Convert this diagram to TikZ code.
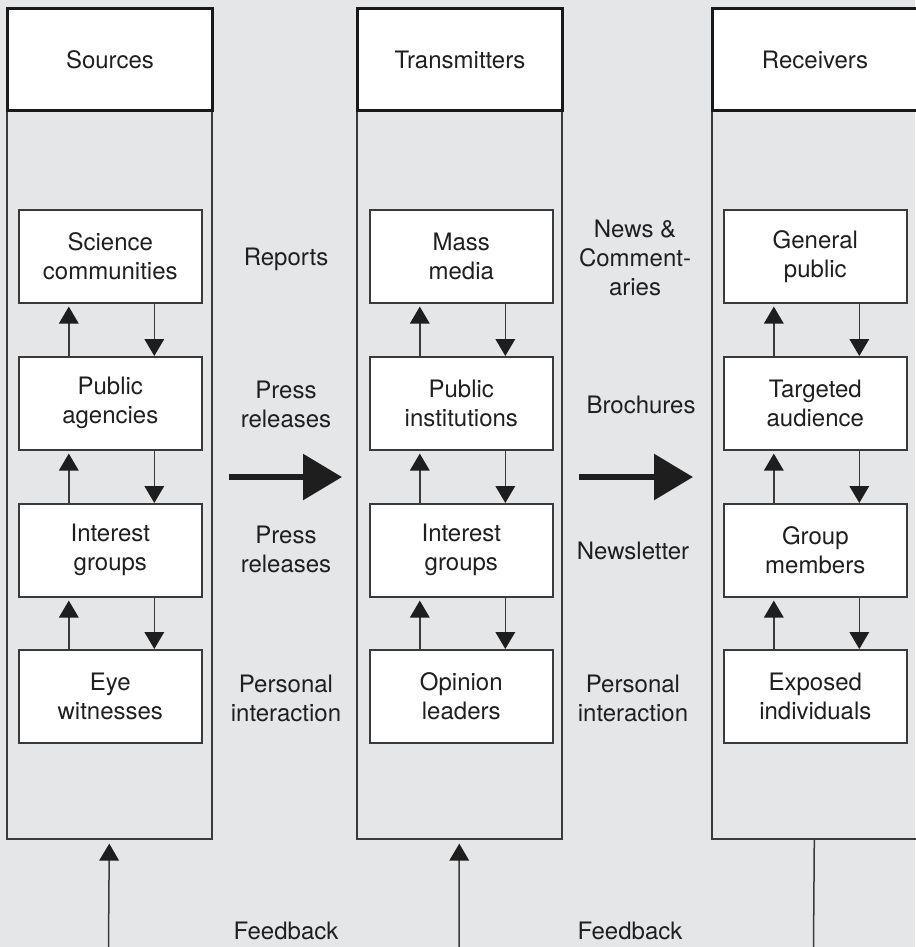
\documentclass[tikz,border=0pt]{standalone}
\usepackage{fontspec}
\setmainfont{TeX Gyre Heros}
\usetikzlibrary{arrows.meta,calc}
\definecolor{bg}{RGB}{229,230,232}
\definecolor{ln}{RGB}{58,58,58}
\definecolor{hd}{RGB}{30,30,30}
\begin{document}
\begin{tikzpicture}[x=0.5pt,y=-0.5pt,
  txt/.style={font=\fontsize{12pt}{14.5pt}\selectfont, text=black!88},
  col/.style={draw=ln,line width=0.8pt,anchor=north west,minimum width=102.5pt,minimum height=415.5pt,inner sep=0pt},
  head/.style={txt,draw=black!90,line width=1.5pt,fill=white,anchor=north west,minimum width=102.5pt,minimum height=51pt,inner sep=0pt},
  box/.style={txt,draw=ln,line width=0.8pt,fill=white,anchor=north west,minimum width=91.5pt,minimum height=46.5pt,inner sep=0pt,align=center},
  lbl/.style={txt,align=center,inner sep=0pt},
  sarr/.style={draw=ln,line width=0.75pt,-{Triangle[length=8.5pt,width=9.8pt,color=hd]}},
  barr/.style={draw=hd,line width=3pt,-{Triangle[length=19.5pt,width=22.5pt]}}
]
\fill[bg] (0,0) rectangle (915,947);
\useasboundingbox (0,0) rectangle (915,947);

% columns
\node[col] (c1) at (6,7) {};
\node[col] (c2) at (356,7) {};
\node[col] (c3) at (711,7) {};
\node[head] (h1) at (6,7) {Sources};
\node[head] (h2) at (356,7) {Transmitters};
\node[head] (h3) at (711,7) {Receivers};

% column 1
\node[box] (b11) at (18,209) {Science\\communities};
\node[box] (b12) at (18,356) {Public\\agencies};
\node[box] (b13) at (18,503) {Interest\\groups};
\node[box] (b14) at (18,649) {Eye\\witnesses};
% column 2
\node[box] (b21) at (369,209) {Mass\\media};
\node[box] (b22) at (369,356) {Public\\institutions};
\node[box] (b23) at (369,503) {Interest\\groups};
\node[box] (b24) at (369,649) {Opinion\\leaders};
% column 3
\node[box] (b31) at (723,209) {General\\public};
\node[box] (b32) at (723,356) {Targeted\\audience};
\node[box] (b33) at (723,503) {Group\\members};
\node[box] (b34) at (723,649) {Exposed\\individuals};

% vertical arrows between boxes
\foreach \c in {1,2,3}{
  \foreach \a/\b in {1/2,2/3,3/4}{
    \draw[sarr,shorten >=1.5pt] ([xshift=-20.75pt]b\c\b.north) -- ([xshift=-20.75pt]b\c\a.south);
    \draw[sarr] ([xshift=22pt]b\c\a.south) -- ([xshift=22pt]b\c\b.north);
  }
}

% labels between columns
\node[lbl] (l1) at (286,259) {Reports};
\node[lbl] (l2) at (286,404) {Press\\releases};
\node[lbl] (l3) at (286,549) {Press\\releases};
\node[lbl] (l4) at (286,698) {Personal\\interaction};
\node[lbl] (m1) at (635,258) {News \&\\Comment-\\aries};
\node[lbl] (m2) at (641,405) {Brochures};
\node[lbl] (m3) at (633,551) {Newsletter};
\node[lbl] (m4) at (633,698) {Personal\\interaction};

% big arrows
\coordinate (a1s) at (229,477);
\coordinate (a1e) at (342,477);
\coordinate (a2s) at (579,477);
\coordinate (a2e) at (693,477);
\draw[barr] (a1s) -- (a1e);
\draw[barr] (a2s) -- (a2e);

% feedback
\coordinate (f1) at (108.5,947);
\coordinate (f2) at (459,947);
\coordinate (f3) at (813.5,947);
\draw[sarr,shorten >=2pt] (f1) -- (c1.south);
\draw[sarr,shorten >=2pt] (f2) -- (c2.south);
\draw[draw=ln,line width=0.75pt] (c3.south) -- (f3);
\node[lbl] (fb1) at (286,931) {Feedback};
\node[lbl] (fb2) at (630,931) {Feedback};
\end{tikzpicture}
\end{document}
